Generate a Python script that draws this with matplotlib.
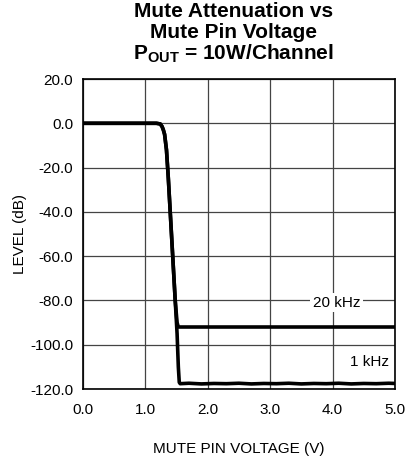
import numpy as np
import matplotlib.pyplot as plt

plt.rcParams['font.family'] = ['Liberation Sans', 'DejaVu Sans']
plt.rcParams['mathtext.fontset'] = 'custom'
plt.rcParams['mathtext.rm'] = 'Liberation Sans'
plt.rcParams['mathtext.bf'] = 'Liberation Sans:bold'

# 20 kHz curve
v_20k = [0.0, 1.18, 1.24, 1.27, 1.29, 1.31, 1.34, 1.37, 1.40, 1.44, 1.48, 1.51, 1.53, 5.0]
db_20k = [0.0, 0.0, -0.3, -1.5, -3.0, -5.0, -12.0, -25.0, -40.0, -60.0, -80.0, -90.0, -92.0, -92.0]

# 1 kHz curve, follows 20 kHz down then keeps falling
v_1k = [0.0, 1.18, 1.24, 1.27, 1.29, 1.31, 1.34, 1.37, 1.40, 1.44, 1.48, 1.51, 1.53, 1.545, 1.56,
        1.7, 1.9, 2.1, 2.3, 2.5, 2.7, 2.9, 3.1, 3.3, 3.5, 3.7, 3.9, 4.1, 4.3, 4.5, 4.7, 4.9, 5.0]
db_1k = [0.0, 0.0, -0.3, -1.5, -3.0, -5.0, -12.0, -25.0, -40.0, -60.0, -80.0, -95.0, -110.0, -117.0, -117.6,
         -117.4, -117.7, -117.5, -117.6, -117.4, -117.7, -117.5, -117.6, -117.4, -117.7, -117.5, -117.6,
         -117.4, -117.7, -117.5, -117.6, -117.4, -117.5]

fig = plt.figure(figsize=(4.08, 4.62), dpi=100)
ax = fig.add_axes([0.203, 0.158, 0.765, 0.671])

ax.plot(v_20k, db_20k, color='black', lw=2.6, solid_joinstyle='round', zorder=3)
ax.plot(v_1k, db_1k, color='black', lw=2.6, solid_joinstyle='round', zorder=3)

ax.set_xlim(0, 5)
ax.set_ylim(-120, 20)
ax.set_xticks(np.arange(0, 5.01, 1.0))
ax.set_yticks(np.arange(-120, 20.01, 20))
ax.set_xticklabels([f"{v:.1f}" for v in np.arange(0, 5.01, 1.0)])
ax.set_yticklabels([f"{v:.1f}" for v in np.arange(-120, 20.01, 20)])
ax.tick_params(length=0, labelsize=11)
ax.tick_params(axis='x', pad=10)
ax.tick_params(axis='y', pad=7)
ax.grid(True, color='#444444', lw=0.9)
for s in ax.spines.values():
    s.set_linewidth(1.2)

ax.text(4.07, -81, "20 kHz", ha='center', va='center', fontsize=11,
        bbox=dict(facecolor='white', edgecolor='none', pad=2), zorder=4)
ax.text(4.6, -108, "1 kHz", ha='center', va='center', fontsize=11,
        bbox=dict(facecolor='white', edgecolor='none', pad=1), zorder=4)

ax.set_xlabel("MUTE PIN VOLTAGE (V)", fontsize=11, labelpad=18)
ax.set_ylabel("LEVEL (dB)", fontsize=11, labelpad=2)

fig.text(0.573, 0.995, "Mute Attenuation vs\nMute Pin Voltage\n$\\mathbf{P_{OUT}}$ = 10W/Channel",
         ha='center', va='top', fontsize=15, fontweight='bold', linespacing=1.08)

fig.savefig("out.png", dpi=100)
